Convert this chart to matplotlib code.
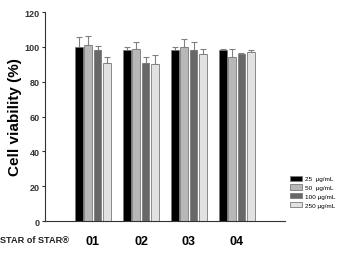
import matplotlib.pyplot as plt
import numpy as np

# data
groups = ['01', '02', '03', '04']
series = ['25  \u00b5g/mL', '50  \u00b5g/mL', '100 \u00b5g/mL', '250 \u00b5g/mL']
values = [
    [100, 98, 98, 98],    # 25
    [101, 99, 100, 94],   # 50
    [98, 91, 98, 96],     # 100
    [91, 90, 96, 97],     # 250
]
errors = [
    [5.7, 2.0, 2.2, 1.0],
    [5.0, 3.5, 4.5, 4.5],
    [2.7, 3.0, 4.5, 0.4],
    [3.3, 5.5, 2.5, 1.3],
]
colors = ['#000000', '#b8b8b8', '#686868', '#e2e2e2']

plt.rcParams['font.family'] = ['Liberation Sans Narrow', 'Liberation Sans', 'DejaVu Sans']

fig = plt.figure(figsize=(3.38, 2.55), dpi=100)
ax = fig.add_axes([0.133, 0.129, 0.71, 0.82])

x = np.arange(1, len(groups) + 1)
w = 0.19
for i in range(len(series)):
    pos = x + (i - 1.5) * w
    ax.bar(pos, values[i], width=0.165, color=colors[i], edgecolor='#7a7a7a',
           linewidth=0.6, label=series[i], zorder=2)
    ax.errorbar(pos, values[i], yerr=[np.zeros(4), errors[i]], fmt='none',
                ecolor='#808080', elinewidth=0.8, capsize=2, capthick=0.8, zorder=1)

ax.set_xlim(0, 5)
ax.set_ylim(0, 120)
ax.set_yticks([0, 20, 40, 60, 80, 100, 120])
ax.set_xticks(x)
ax.set_xticklabels(groups, fontsize=9, fontweight='bold')
ax.tick_params(axis='x', length=0, pad=10)
ax.tick_params(axis='y', length=2, width=0.8, labelsize=6.5, pad=2, colors='#333333')
for lbl in ax.get_yticklabels():
    lbl.set_fontweight('bold')
ax.spines['top'].set_visible(False)
ax.spines['right'].set_visible(False)
ax.spines['left'].set_color('#333333')
ax.spines['bottom'].set_color('#333333')

fig.text(0.045, 0.54, 'Cell viability (%)', rotation=90, ha='center', va='center',
         fontsize=11, fontweight='bold', family=['Liberation Sans', 'DejaVu Sans'])
fig.text(0.0, 0.057, 'STAR of STAR\u00ae', ha='left', va='center', fontsize=6.6,
         fontweight='bold', color='#222222')

fig.legend(loc='upper left', bbox_to_anchor=(0.85, 0.32), frameon=False,
           fontsize=4.6, handlelength=1.8, handleheight=0.9, handletextpad=0.4,
           labelspacing=0.45, borderpad=0)

fig.savefig('out.png', dpi=100)
